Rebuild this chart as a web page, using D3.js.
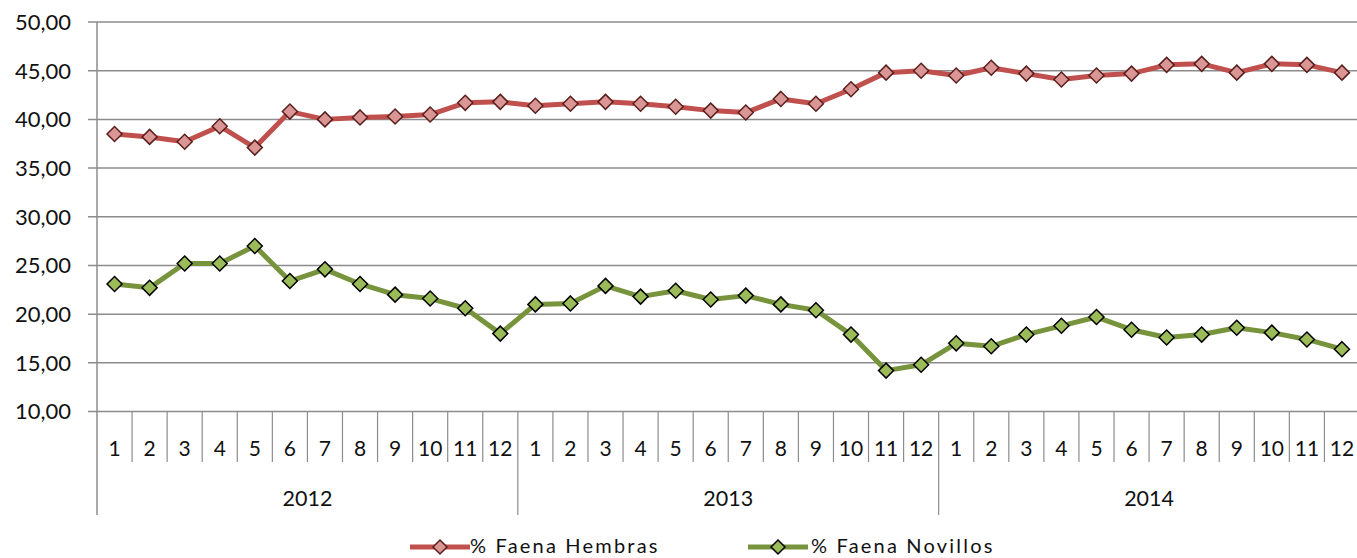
<!DOCTYPE html>
<html>
<head>
<meta charset="utf-8">
<script src="https://cdn.jsdelivr.net/npm/d3@7"></script>
<style>
  html, body { margin: 0; padding: 0; background: #fff; }
  svg { display: block; font-family: Lato, "Open Sans", sans-serif; }
</style>
</head>
<body>
<svg id="chart" width="1357" height="558"></svg>
<script>
const years = ["2012", "2013", "2014"];
const months = ["1","2","3","4","5","6","7","8","9","10","11","12"];
const yTicks = [10, 15, 20, 25, 30, 35, 40, 45, 50];
const seriesNames = ["% Faena Hembras", "% Faena Novillos"];
const hembras = [38.5, 38.2, 37.7, 39.3, 37.1, 40.8, 40.0, 40.2, 40.3, 40.5, 41.7, 41.8,
                 41.4, 41.6, 41.8, 41.6, 41.3, 40.9, 40.7, 42.1, 41.6, 43.1, 44.8, 45.0,
                 44.5, 45.3, 44.7, 44.1, 44.5, 44.7, 45.6, 45.7, 44.8, 45.7, 45.6, 44.8];
const novillos = [23.1, 22.7, 25.2, 25.2, 27.0, 23.4, 24.6, 23.1, 22.0, 21.6, 20.6, 18.0,
                  21.0, 21.1, 22.9, 21.8, 22.4, 21.5, 21.9, 21.0, 20.4, 17.9, 14.2, 14.8,
                  17.0, 16.7, 17.9, 18.8, 19.7, 18.4, 17.6, 17.9, 18.6, 18.1, 17.4, 16.4];

(function () {
const svg = d3.select("#chart");
const pLeft = 97, pRight = 1359.5, pTop = 22, pBottom = 411.5;
const cats = [];
years.forEach(yr => months.forEach(m => cats.push({year: yr, month: m})));
const idx = d3.range(cats.length);

const x = d3.scaleBand().domain(idx).range([pLeft, pRight]).padding(0);
const y = d3.scaleLinear().domain([10, 50]).range([pBottom, pTop]);
const cx = i => x(i) + x.bandwidth() / 2;
const gridColor = "#8c8c8c";

// gridlines
svg.append("g").selectAll("line").data(yTicks).join("line")
  .attr("x1", pLeft - 9).attr("x2", pRight)
  .attr("y1", d => y(d)).attr("y2", d => y(d))
  .attr("stroke", gridColor).attr("stroke-width", 1.5);

// y labels
svg.append("g").selectAll("text").data(yTicks).join("text")
  .attr("x", 71).attr("y", d => y(d)).attr("dy", "0.36em")
  .attr("text-anchor", "end").attr("font-size", 22).attr("fill", "#111")
  .text(d => d3.format(".2f")(d).replace(".", ","));

// y axis line
svg.append("line").attr("x1", pLeft).attr("x2", pLeft).attr("y1", pTop).attr("y2", 515)
  .attr("stroke", gridColor).attr("stroke-width", 1.5);

// category separators
svg.append("g").selectAll("line").data(d3.range(1, cats.length + 1)).join("line")
  .attr("x1", i => x(i - 1) + x.bandwidth()).attr("x2", i => x(i - 1) + x.bandwidth())
  .attr("y1", pBottom).attr("y2", i => (i % 12 === 0) ? 515 : 462)
  .attr("stroke", gridColor).attr("stroke-width", 1.2);

// month labels
svg.append("g").selectAll("text").data(idx).join("text")
  .attr("x", i => cx(i)).attr("y", 448).attr("dy", "0.36em")
  .attr("text-anchor", "middle").attr("font-size", 21).attr("fill", "#111")
  .text(i => cats[i].month);

// year labels
svg.append("g").selectAll("text").data(years).join("text")
  .attr("x", (d, k) => (x(k * 12) + x(k * 12 + 11) + x.bandwidth()) / 2)
  .attr("y", 498).attr("dy", "0.36em")
  .attr("text-anchor", "middle").attr("font-size", 21.5).attr("fill", "#111")
  .text(d => d);

const styles = [
  {line: "#C0504D", fill: "#D99694", stroke: "#5a1f1d", data: hembras},
  {line: "#77933C", fill: "#9BBB59", stroke: "#000", data: novillos}
];
const diamond = (s) => `M0,${-s}L${s},0L0,${s}L${-s},0Z`;
const lineGen = d3.line().x((d, i) => cx(i)).y(d => y(d));

styles.forEach(st => {
  svg.append("path").datum(st.data).attr("d", lineGen)
    .attr("fill", "none").attr("stroke", st.line).attr("stroke-width", 5)
    .attr("stroke-linejoin", "round");
  svg.append("g").selectAll("path").data(st.data).join("path")
    .attr("transform", (d, i) => `translate(${cx(i)},${y(d)})`)
    .attr("d", diamond(7.5))
    .attr("fill", st.fill).attr("stroke", st.stroke).attr("stroke-width", 1.5);
});

// legend
const legendPos = [{x0: 410, tx: 470}, {x0: 748, tx: 811}];
styles.forEach((st, k) => {
  const g = svg.append("g");
  const lp = legendPos[k];
  g.append("line").attr("x1", lp.x0).attr("x2", lp.x0 + 60).attr("y1", 547).attr("y2", 547)
    .attr("stroke", st.line).attr("stroke-width", 5);
  g.append("path").attr("transform", `translate(${lp.x0 + 30},547)`).attr("d", diamond(7))
    .attr("fill", st.fill).attr("stroke", st.stroke).attr("stroke-width", 1.5);
  g.append("text").attr("x", lp.tx).attr("y", 553)
    .attr("font-size", 20).attr("letter-spacing", "2.2px").attr("fill", "#111").text(seriesNames[k]);
});
})();
</script>
</body>
</html>
